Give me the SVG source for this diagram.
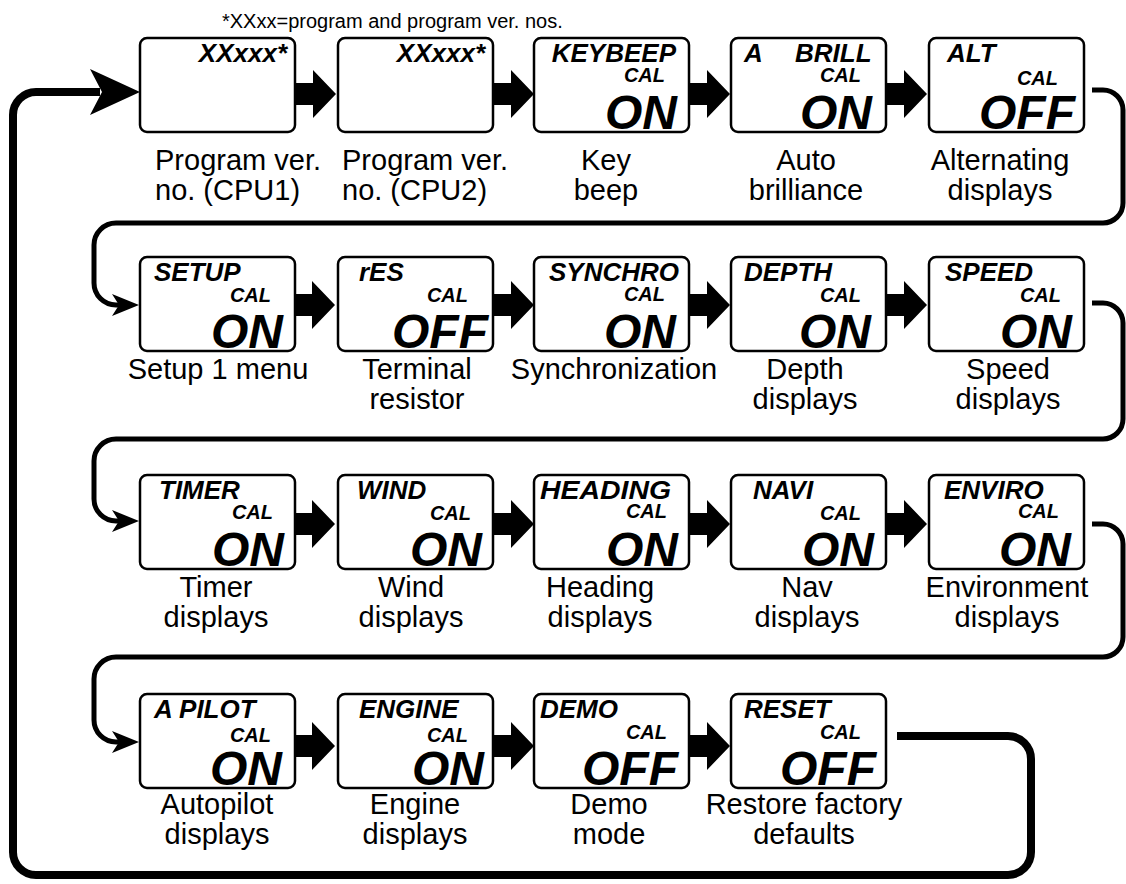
<svg xmlns="http://www.w3.org/2000/svg" width="1126" height="884" viewBox="0 0 1126 884">
<defs>
<style>
.box{fill:#fff;stroke:#000;stroke-width:2.5}
.t{font-family:"Liberation Sans",Arial,sans-serif;font-weight:bold;font-style:italic;font-size:26px;fill:#000}
.c{font-family:"Liberation Sans",Arial,sans-serif;font-weight:bold;font-style:italic;font-size:20px;fill:#000;text-anchor:end}
.v{font-family:"Liberation Sans",Arial,sans-serif;font-weight:bold;font-style:italic;font-size:48px;fill:#000;text-anchor:end}
.l{font-family:"Liberation Sans",Arial,sans-serif;font-size:29px;fill:#000;text-anchor:middle}
.ll{font-family:"Liberation Sans",Arial,sans-serif;font-size:29px;fill:#000}
.n{font-family:"Liberation Sans",Arial,sans-serif;font-size:20px;fill:#000}
.thin{fill:none;stroke:#000;stroke-width:5}
.thick{fill:none;stroke:#000;stroke-width:8}
</style>
<path id="fat" d="M0,-11 H18 V-24 L41,0 L18,24 V11 H0 Z" fill="#000"/>
<path id="ah" d="M0,0 L-27,-11 L-20,0 L-27,11 Z" fill="#000"/>
</defs>
<rect width="1126" height="884" fill="#fff"/>
<text class="n" x="222" y="28">*XXxx=program and program ver. nos.</text>

<g id="connectors">
<use href="#fat" x="295" y="94"/>
<use href="#fat" x="493" y="94"/>
<use href="#fat" x="689" y="94"/>
<use href="#fat" x="886" y="94"/>
<use href="#fat" x="294" y="305"/>
<use href="#fat" x="493" y="305"/>
<use href="#fat" x="689" y="305"/>
<use href="#fat" x="886" y="305"/>
<use href="#fat" x="294" y="524"/>
<use href="#fat" x="493" y="524"/>
<use href="#fat" x="689" y="524"/>
<use href="#fat" x="886" y="524"/>
<use href="#fat" x="294" y="746"/>
<use href="#fat" x="493" y="746"/>
<use href="#fat" x="689" y="746"/>
<path class="thin" d="M1092,90 H1103 A20,20 0 0 1 1123,110 V203 A20,20 0 0 1 1103,223 H116 A22,22 0 0 0 94,245 V283 A22,22 0 0 0 116,305 H122"/>
<use href="#ah" x="139" y="305"/>
<path class="thin" d="M1092,303 H1103 A20,20 0 0 1 1123,323 V419 A20,20 0 0 1 1103,439 H116 A22,22 0 0 0 94,461 V499 A22,22 0 0 0 116,521 H122"/>
<use href="#ah" x="139" y="521"/>
<path class="thin" d="M1092,524 H1103 A20,20 0 0 1 1123,544 V637 A20,20 0 0 1 1103,657 H116 A22,22 0 0 0 94,679 V720 A22,22 0 0 0 116,742 H122"/>
<use href="#ah" x="139" y="742"/>
<path class="thick" d="M897,736 H1008 A23,23 0 0 1 1031,759 V852 A23,23 0 0 1 1008,875 H36 A23,23 0 0 1 13,852 V115 A23,23 0 0 1 36,92 H100"/>
<path d="M140,92 L90,69 L102,92 L90,115 Z" fill="#000"/>
</g>

<g id="n1"><rect class="box" x="140" y="38" width="155" height="94" rx="7"/>
<text class="t" x="287" y="62" text-anchor="end">XXxxx*</text>
<text class="ll" x="155" y="170">Program ver.</text><text class="ll" x="155" y="200">no. (CPU1)</text></g>
<g id="n2"><rect class="box" x="338" y="38" width="155" height="94" rx="7"/>
<text class="t" x="485" y="62" text-anchor="end">XXxxx*</text>
<text class="ll" x="342" y="170">Program ver.</text><text class="ll" x="342" y="200">no. (CPU2)</text></g>
<g id="n3"><rect class="box" x="534" y="38" width="155" height="94" rx="7"/>
<text class="t" x="676" y="62" text-anchor="end">KEYBEEP</text>
<text class="c" x="665" y="82">CAL</text><text class="v" x="677" y="129">ON</text>
<text class="l" x="606" y="170">Key</text><text class="l" x="606" y="200">beep</text></g>
<g id="n4"><rect class="box" x="731" y="38" width="155" height="94" rx="7"/>
<text class="t"><tspan x="744" y="62">A</tspan><tspan x="795" y="62">BRILL</tspan></text>
<text class="c" x="861" y="82">CAL</text><text class="v" x="872" y="129">ON</text>
<text class="l" x="806" y="170">Auto</text><text class="l" x="806" y="200">brilliance</text></g>
<g id="n5"><rect class="box" x="929" y="38" width="155" height="94" rx="7"/>
<text class="t" x="947" y="62">ALT</text>
<text class="c" x="1058" y="85">CAL</text><text class="v" x="1075" y="129">OFF</text>
<text class="l" x="1000" y="170">Alternating</text><text class="l" x="1000" y="200">displays</text></g>

<g id="n6"><rect class="box" x="140" y="257" width="155" height="94" rx="7"/>
<text class="t" x="154" y="281">SETUP</text>
<text class="c" x="271" y="302">CAL</text><text class="v" x="283" y="348">ON</text>
<text class="l" x="218" y="379">Setup 1 menu</text></g>
<g id="n7"><rect class="box" x="338" y="257" width="155" height="94" rx="7"/>
<text class="t" x="359" y="281">rES</text>
<text class="c" x="468" y="302">CAL</text><text class="v" x="488" y="348">OFF</text>
<text class="l" x="417" y="379">Terminal</text><text class="l" x="417" y="409">resistor</text></g>
<g id="n8"><rect class="box" x="534" y="257" width="155" height="94" rx="7"/>
<text class="t" x="549" y="281">SYNCHRO</text>
<text class="c" x="665" y="301">CAL</text><text class="v" x="676" y="348">ON</text>
<text class="l" x="614" y="379">Synchronization</text></g>
<g id="n9"><rect class="box" x="731" y="257" width="155" height="94" rx="7"/>
<text class="t" x="744" y="281">DEPTH</text>
<text class="c" x="861" y="302">CAL</text><text class="v" x="871" y="348">ON</text>
<text class="l" x="805" y="379">Depth</text><text class="l" x="805" y="409">displays</text></g>
<g id="n10"><rect class="box" x="929" y="257" width="155" height="94" rx="7"/>
<text class="t" x="945" y="281">SPEED</text>
<text class="c" x="1061" y="302">CAL</text><text class="v" x="1072" y="348">ON</text>
<text class="l" x="1008" y="379">Speed</text><text class="l" x="1008" y="409">displays</text></g>

<g id="n11"><rect class="box" x="140" y="475" width="155" height="94" rx="7"/>
<text class="t" x="159" y="499">TIMER</text>
<text class="c" x="273" y="519">CAL</text><text class="v" x="284" y="566">ON</text>
<text class="l" x="216" y="597">Timer</text><text class="l" x="216" y="627">displays</text></g>
<g id="n12"><rect class="box" x="338" y="475" width="155" height="94" rx="7"/>
<text class="t" x="357" y="499">WIND</text>
<text class="c" x="471" y="520">CAL</text><text class="v" x="482" y="566">ON</text>
<text class="l" x="411" y="597">Wind</text><text class="l" x="411" y="627">displays</text></g>
<g id="n13"><rect class="box" x="534" y="475" width="155" height="94" rx="7"/>
<text class="t" x="540" y="499" textLength="131" lengthAdjust="spacingAndGlyphs">HEADING</text>
<text class="c" x="667" y="518">CAL</text><text class="v" x="678" y="566">ON</text>
<text class="l" x="600" y="597">Heading</text><text class="l" x="600" y="627">displays</text></g>
<g id="n14"><rect class="box" x="731" y="475" width="155" height="94" rx="7"/>
<text class="t" x="753" y="499">NAVI</text>
<text class="c" x="861" y="520">CAL</text><text class="v" x="874" y="566">ON</text>
<text class="l" x="807" y="597">Nav</text><text class="l" x="807" y="627">displays</text></g>
<g id="n15"><rect class="box" x="929" y="475" width="155" height="94" rx="7"/>
<text class="t" x="944" y="499">ENVIRO</text>
<text class="c" x="1059" y="518">CAL</text><text class="v" x="1071" y="566">ON</text>
<text class="l" x="1007" y="597">Environment</text><text class="l" x="1007" y="627">displays</text></g>

<g id="n16"><rect class="box" x="140" y="694" width="155" height="94" rx="7"/>
<text class="t" x="154" y="718">A PILOT</text>
<text class="c" x="271" y="742">CAL</text><text class="v" x="282" y="785">ON</text>
<text class="l" x="217" y="814">Autopilot</text><text class="l" x="217" y="844">displays</text></g>
<g id="n17"><rect class="box" x="338" y="694" width="155" height="94" rx="7"/>
<text class="t" x="359" y="718">ENGINE</text>
<text class="c" x="468" y="742">CAL</text><text class="v" x="484" y="785">ON</text>
<text class="l" x="415" y="814">Engine</text><text class="l" x="415" y="844">displays</text></g>
<g id="n18"><rect class="box" x="534" y="694" width="155" height="94" rx="7"/>
<text class="t" x="540" y="718">DEMO</text>
<text class="c" x="667" y="739">CAL</text><text class="v" x="678" y="785">OFF</text>
<text class="l" x="609" y="814">Demo</text><text class="l" x="609" y="844">mode</text></g>
<g id="n19"><rect class="box" x="731" y="694" width="155" height="94" rx="7"/>
<text class="t" x="744" y="718">RESET</text>
<text class="c" x="861" y="739">CAL</text><text class="v" x="876" y="785">OFF</text>
<text class="l" x="804" y="814">Restore factory</text><text class="l" x="804" y="844">defaults</text></g>
</svg>
